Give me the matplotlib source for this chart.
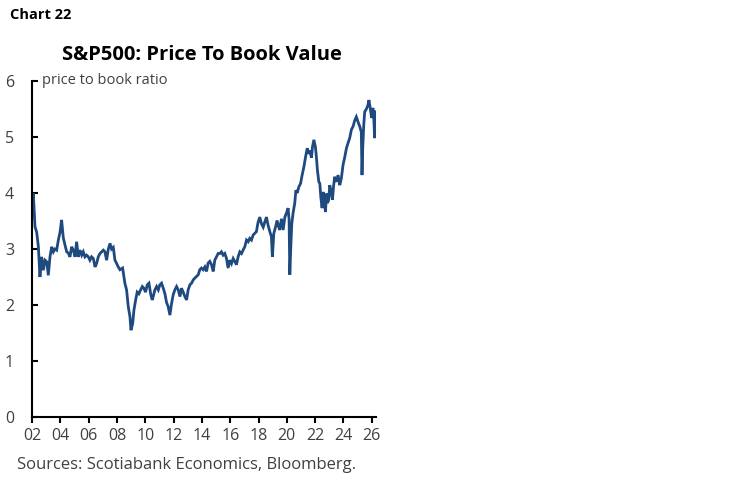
import matplotlib
matplotlib.use("Agg")
import matplotlib.pyplot as plt

# S&P500 price to book ratio (decimal year, ratio)
years = [
    2002.02, 2002.09, 2002.21, 2002.33, 2002.45, 2002.56, 2002.68, 2002.80, 2002.92,
    2003.04, 2003.15, 2003.27, 2003.39, 2003.51, 2003.62, 2003.74, 2003.86, 2003.98,
    2004.09, 2004.21, 2004.33, 2004.45, 2004.56, 2004.68, 2004.80, 2004.92,
    2005.04, 2005.15, 2005.27, 2005.39, 2005.51, 2005.62, 2005.74, 2005.86, 2005.98,
    2006.09, 2006.21, 2006.33, 2006.45, 2006.56, 2006.68, 2006.80, 2006.92,
    2007.04, 2007.15, 2007.27, 2007.39, 2007.51, 2007.62, 2007.74, 2007.86, 2007.98,
    2008.09, 2008.21, 2008.40, 2008.56, 2008.68, 2008.80, 2008.92, 2008.99,
    2009.11, 2009.20, 2009.32, 2009.43, 2009.55, 2009.67, 2009.79, 2009.90,
    2010.02, 2010.14, 2010.26, 2010.38, 2010.49, 2010.56, 2010.68, 2010.80, 2010.92,
    2011.03, 2011.15, 2011.27, 2011.39, 2011.50, 2011.62, 2011.74, 2011.86, 2011.97,
    2012.09, 2012.21, 2012.33, 2012.45, 2012.56, 2012.68, 2012.80, 2012.92,
    2013.03, 2013.15, 2013.27, 2013.39, 2013.50, 2013.74, 2013.85, 2013.97,
    2014.09, 2014.21, 2014.33, 2014.44, 2014.56, 2014.68, 2014.80, 2014.91,
    2015.03, 2015.15, 2015.27, 2015.38, 2015.50, 2015.62, 2015.74, 2015.85, 2015.97,
    2016.09, 2016.21, 2016.32, 2016.44, 2016.56, 2016.68, 2016.80, 2016.91,
    2017.03, 2017.15, 2017.27, 2017.38, 2017.50, 2017.62, 2017.74, 2017.85, 2017.97,
    2018.09, 2018.21, 2018.33, 2018.44, 2018.56, 2018.68, 2018.80, 2018.91, 2018.98,
    2019.08, 2019.20, 2019.31, 2019.43, 2019.50, 2019.62, 2019.74, 2019.86, 2019.97,
    2020.09, 2020.16, 2020.21, 2020.28, 2020.35, 2020.44, 2020.56, 2020.64, 2020.73,
    2020.85, 2020.97, 2021.08, 2021.20, 2021.32, 2021.44, 2021.55, 2021.62, 2021.74,
    2021.81, 2021.91, 2022.02, 2022.09, 2022.16, 2022.26, 2022.33, 2022.40, 2022.49,
    2022.56, 2022.63, 2022.73, 2022.80, 2022.87, 2022.96,
    2023.03, 2023.15, 2023.22, 2023.31, 2023.38, 2023.50, 2023.62, 2023.74, 2023.85,
    2023.97, 2024.09, 2024.21, 2024.32, 2024.44, 2024.56, 2024.68, 2024.80, 2024.91,
    2025.03, 2025.15, 2025.26, 2025.31, 2025.36, 2025.43, 2025.50, 2025.62, 2025.73,
    2025.80, 2025.90, 2025.99, 2026.08, 2026.15, 2026.20, 2026.27,
]
pb_ratio = [
    3.60, 4.00, 3.40, 3.30, 3.04, 2.50, 2.86, 2.62, 2.80,
    2.77, 2.53, 2.86, 3.04, 2.95, 3.00, 2.98, 3.16, 3.30,
    3.52, 3.20, 3.07, 2.95, 2.93, 2.86, 3.04, 2.98,
    2.86, 3.13, 2.86, 2.98, 2.89, 2.95, 2.86, 2.89, 2.86,
    2.80, 2.86, 2.83, 2.68, 2.74, 2.86, 2.92, 2.95,
    2.98, 2.95, 2.80, 3.00, 3.10, 3.00, 3.03, 2.80, 2.74,
    2.68, 2.63, 2.66, 2.39, 2.27, 1.97, 1.79, 1.55,
    1.67, 1.91, 2.09, 2.23, 2.20, 2.27, 2.33, 2.30,
    2.23, 2.36, 2.39, 2.20, 2.09, 2.15, 2.27, 2.33, 2.27,
    2.36, 2.39, 2.30, 2.20, 2.05, 1.97, 1.82, 2.03, 2.18,
    2.27, 2.33, 2.27, 2.15, 2.30, 2.23, 2.15, 2.09,
    2.27, 2.36, 2.39, 2.45, 2.48, 2.54, 2.63, 2.66,
    2.63, 2.68, 2.60, 2.75, 2.78, 2.72, 2.60, 2.80,
    2.86, 2.92, 2.92, 2.95, 2.89, 2.92, 2.83, 2.66, 2.80,
    2.74, 2.83, 2.78, 2.72, 2.86, 2.95, 2.92, 2.98,
    3.04, 3.16, 3.13, 3.19, 3.16, 3.25, 3.28, 3.31, 3.48,
    3.57, 3.45, 3.39, 3.48, 3.57, 3.42, 3.31, 3.22, 2.86,
    3.28, 3.39, 3.51, 3.39, 3.34, 3.54, 3.34, 3.57, 3.64,
    3.73, 3.52, 2.54, 3.04, 3.45, 3.64, 3.82, 4.05, 4.00,
    4.11, 4.17, 4.32, 4.46, 4.64, 4.80, 4.70, 4.76, 4.63,
    4.82, 4.95, 4.82, 4.64, 4.41, 4.20, 4.17, 3.93, 3.73,
    4.02, 3.85, 3.66, 3.99, 3.82, 3.88,
    4.14, 4.02, 3.88, 4.14, 4.29, 4.20, 4.32, 4.14, 4.26,
    4.50, 4.64, 4.80, 4.89, 4.98, 5.13, 5.19, 5.30, 5.36,
    5.27, 5.19, 5.09, 4.32, 4.80, 5.20, 5.45, 5.50, 5.57,
    5.66, 5.50, 5.34, 5.52, 5.30, 4.98, 5.45,
]

tick_years = list(range(2002, 2027, 2))
tick_labels = ["%02d" % (y % 100) for y in tick_years]

plt.rcParams["font.family"] = ["Open Sans", "DejaVu Sans"]
text_grey = "#404040"

fig = plt.figure(figsize=(7.48, 4.83), dpi=100)
ax = fig.add_axes([0.0428, 0.1366, 0.4599, 0.6957])

ax.plot(years, pb_ratio, color="#1f4a80", linewidth=2.0, solid_joinstyle="miter")

ax.set_xlim(2002, 2026.3)
ax.set_ylim(0, 6)
ax.set_xticks(tick_years)
ax.set_xticklabels(tick_labels)
ax.set_yticks(range(0, 7))

for side in ("top", "right"):
    ax.spines[side].set_visible(False)
for side in ("left", "bottom"):
    ax.spines[side].set_linewidth(1.5)
    ax.spines[side].set_color("black")

ax.tick_params(axis="y", direction="in", length=4, width=1.5, pad=13,
               labelsize=11.5, labelcolor=text_grey)
ax.tick_params(axis="x", direction="out", length=4, width=1.5, pad=4,
               labelsize=11.5, labelcolor=text_grey)

ax.text(0.03, 1.0, "price to book ratio", transform=ax.transAxes,
        fontsize=10.5, color=text_grey, va="center", ha="left")

fig.text(202 / 748, 1 - 55 / 483, "S&P500: Price To Book Value",
         fontsize=14.5, fontweight="bold", ha="center", va="center")
fig.text(10 / 748, 1 - 15 / 483, "Chart 22", fontsize=10.5,
         fontweight="bold", ha="left", va="center")
fig.text(17 / 748, 1 - 465 / 483, "Sources: Scotiabank Economics, Bloomberg.",
         fontsize=12, color=text_grey, ha="left", va="center")

fig.savefig("out.png", dpi=100)
